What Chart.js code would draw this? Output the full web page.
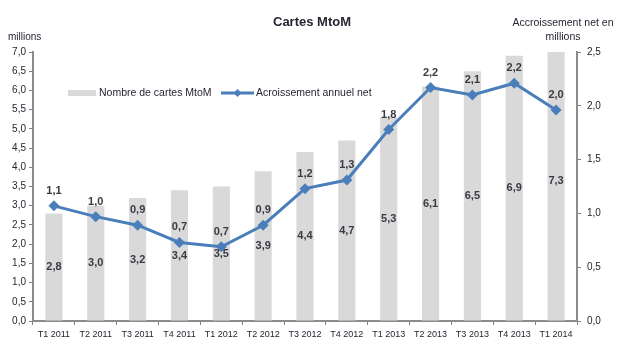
<!DOCTYPE html>
<html>
<head>
<meta charset="utf-8">
<script src="https://cdn.jsdelivr.net/npm/chart.js@4"></script>
<style>
  html, body { margin: 0; padding: 0; background: #fff; }
  #wrap { position: relative; width: 629px; height: 353px; }
</style>
</head>
<body>
<div id="wrap"><canvas id="c" width="629" height="353"></canvas></div>
<script>
const categories = ['T1 2011','T2 2011','T3 2011','T4 2011','T1 2012','T2 2012','T3 2012','T4 2012','T1 2013','T2 2013','T3 2013','T4 2013','T1 2014'];
const cartes = [2.8, 3.0, 3.2, 3.4, 3.5, 3.9, 4.4, 4.7, 5.3, 6.1, 6.5, 6.9, 7.3];
const accroissement = [1.07, 0.97, 0.89, 0.73, 0.69, 0.89, 1.23, 1.31, 1.78, 2.17, 2.10, 2.21, 1.96];
const titleText = 'Cartes MtoM';
const leftAxisTitle = 'millions';
const rightAxisTitle = ['Accroissement net en', 'millions'];
const legendLabels = ['Nombre de cartes MtoM', 'Acroissement annuel net'];

const fmt = v => Number(v).toFixed(1).replace('.', ',');
const FONT = '"Liberation Sans", Arial, sans-serif';
const BAR_COLOR = '#d9d9d9';
const LINE_COLOR = '#4a7ebb';
const TEXT_COLOR = '#262633';

const decorPlugin = {
  id: 'decor',
  afterDatasetsDraw(chart) {
    const ctx = chart.ctx;
    const y = chart.scales.y, y1 = chart.scales.y1;
    ctx.save();
    ctx.fillStyle = '#3a3a44';
    ctx.font = 'bold 11px ' + FONT;
    ctx.textAlign = 'center';
    ctx.textBaseline = 'middle';
    // bar labels at mid of bar
    chart.getDatasetMeta(1).data.forEach((el, i) => {
      const py = y.getPixelForValue(cartes[i] / 2);
      ctx.fillText(fmt(cartes[i]), el.x, py);
    });
    // line labels above points
    chart.getDatasetMeta(0).data.forEach((el, i) => {
      ctx.fillText(fmt(accroissement[i]), el.x, el.y - 15);
    });
    ctx.restore();
  },
  afterDraw(chart) {
    const ctx = chart.ctx;
    ctx.save();
    ctx.fillStyle = TEXT_COLOR;
    ctx.textBaseline = 'middle';
    // title
    ctx.font = 'bold 13px ' + FONT;
    ctx.textAlign = 'center';
    ctx.fillText(titleText, 312, 22);
    // left axis title
    ctx.font = '10px ' + FONT;
    ctx.textAlign = 'left';
    ctx.fillText(leftAxisTitle, 8, 37);
    // right axis title
    ctx.font = '10.5px ' + FONT;
    ctx.textAlign = 'center';
    ctx.fillText(rightAxisTitle[0], 563, 23);
    ctx.fillText(rightAxisTitle[1], 563, 37);
    // legend
    ctx.fillStyle = BAR_COLOR;
    ctx.fillRect(68, 90, 28, 6);
    ctx.fillStyle = TEXT_COLOR;
    ctx.font = '10.5px ' + FONT;
    ctx.textAlign = 'left';
    ctx.fillText(legendLabels[0], 99, 93.5);
    ctx.strokeStyle = LINE_COLOR;
    ctx.lineWidth = 3;
    ctx.beginPath();
    ctx.moveTo(221, 93);
    ctx.lineTo(254, 93);
    ctx.stroke();
    ctx.fillStyle = LINE_COLOR;
    ctx.beginPath();
    ctx.moveTo(237.5, 89);
    ctx.lineTo(241.5, 93);
    ctx.lineTo(237.5, 97);
    ctx.lineTo(233.5, 93);
    ctx.closePath();
    ctx.fill();
    ctx.fillStyle = TEXT_COLOR;
    ctx.fillText(legendLabels[1], 256, 93.5);
    ctx.restore();
  }
};

new Chart(document.getElementById('c'), {
  type: 'bar',
  data: {
    labels: categories,
    datasets: [
      {
        type: 'line',
        label: legendLabels[1],
        data: accroissement,
        yAxisID: 'y1',
        borderColor: LINE_COLOR,
        backgroundColor: LINE_COLOR,
        borderWidth: 3,
        pointStyle: 'rectRot',
        pointRadius: 5.5,
        pointBorderWidth: 0,
        tension: 0,
        order: 0
      },
      {
        type: 'bar',
        label: legendLabels[0],
        data: cartes,
        yAxisID: 'y',
        backgroundColor: BAR_COLOR,
        borderWidth: 0,
        barPercentage: 0.41,
        categoryPercentage: 1.0,
        order: 1
      }
    ]
  },
  options: {
    responsive: false,
    animation: false,
    devicePixelRatio: 1,
    layout: { padding: { top: 52, left: 0, right: 0, bottom: 0 } },
    plugins: { legend: { display: false }, title: { display: false }, tooltip: { enabled: false } },
    scales: {
      x: {
        offset: true,
        grid: { display: true, drawOnChartArea: false, offset: true, tickLength: 4, color: '#808080', lineWidth: 1 },
        border: { display: true, color: '#8c8c8c', width: 2 },
        ticks: { color: TEXT_COLOR, font: { family: FONT, size: 9 }, padding: 4, maxRotation: 0, autoSkip: false },
        afterFit(s) { s.height = 32; }
      },
      y: {
        position: 'left',
        min: 0, max: 7,
        grid: { display: true, drawOnChartArea: false, tickLength: 4, color: '#808080' },
        border: { display: true, color: '#8c8c8c', width: 2 },
        ticks: { stepSize: 0.5, color: TEXT_COLOR, font: { family: FONT, size: 10 }, padding: 3, callback: v => fmt(v) },
        afterFit(s) { s.width = 33; }
      },
      y1: {
        position: 'right',
        min: 0, max: 2.5,
        grid: { display: true, drawOnChartArea: false, tickLength: 4, color: '#808080' },
        border: { display: true, color: '#8c8c8c', width: 2 },
        ticks: { stepSize: 0.5, color: TEXT_COLOR, font: { family: FONT, size: 10 }, padding: 6, callback: v => fmt(v) },
        afterFit(s) { s.width = 52; }
      }
    }
  },
  plugins: [decorPlugin]
});
</script>
</body>
</html>
